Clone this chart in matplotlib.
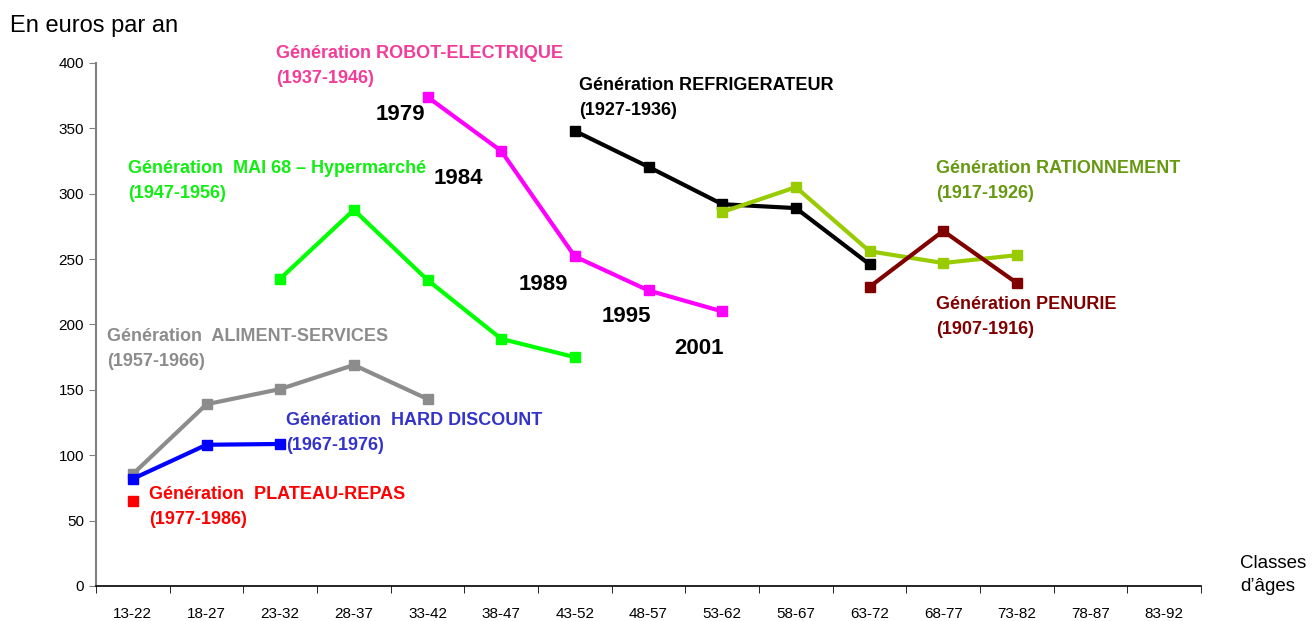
import matplotlib
matplotlib.use("Agg")
from matplotlib import pyplot as plt
from matplotlib import font_manager

# font: narrow Arial look if we have it
names = set(f.name for f in font_manager.fontManager.ttflist)
narrow = 'Liberation Sans Narrow' if 'Liberation Sans Narrow' in names else 'Liberation Sans'

classes = ['13-22', '18-27', '23-32', '28-37', '33-42', '38-47', '43-52', '48-57',
           '53-62', '58-67', '63-72', '68-77', '73-82', '78-87', '83-92']

# each generation: index of first age class, then values
plateau_start = 0
plateau_vals = [65]
hard_start = 0
hard_vals = [82, 108, 108.6]
aliment_start = 0
aliment_vals = [85.6, 139, 150.6, 169, 143]
mai68_start = 2
mai68_vals = [235, 287.6, 234, 189, 175]
robot_start = 4
robot_vals = [374, 332.7, 252, 226, 210]
refrig_start = 6
refrig_vals = [348, 320.5, 292, 289, 246]
ration_start = 8
ration_vals = [286, 305, 256, 247, 253]
penurie_start = 10
penurie_vals = [228.7, 271.5, 231.7]

years = ['1979', '1984', '1989', '1995', '2001']

fig = plt.figure(figsize=(13.12, 6.21), dpi=100)
ax = fig.add_axes([0.0732, 0.0564, 0.8422, 0.8422])

def draw(start, vals, col):
    xs = list(range(start, start + len(vals)))
    ax.plot(xs, vals, color=col, lw=3, marker='s', ms=7, solid_joinstyle='miter', clip_on=False)

draw(aliment_start, aliment_vals, '#8c8c8c')
draw(hard_start, hard_vals, '#0000ff')
draw(plateau_start, plateau_vals, '#ff0000')
draw(mai68_start, mai68_vals, '#00ff00')
draw(robot_start, robot_vals, '#ff00ff')
draw(refrig_start, refrig_vals, '#000000')
draw(ration_start, ration_vals, '#99cc00')
draw(penurie_start, penurie_vals, '#800000')

ax.set_xlim(-0.5, 14.5)
ax.set_ylim(0, 400)
ax.set_yticks(range(0, 401, 50))
ax.set_xticks(range(len(classes)))
ax.set_xticklabels(classes)
ax.set_xticks([i - 0.5 for i in range(len(classes) + 1)], minor=True)
ax.tick_params(axis='x', which='major', length=0, pad=15)
ax.tick_params(axis='x', which='minor', length=5, direction='out')
ax.tick_params(axis='y', length=5, direction='out', color='#808080')
for lab in ax.get_xticklabels() + ax.get_yticklabels():
    lab.set_family(narrow)
    lab.set_fontsize(11)
ax.spines['top'].set_visible(False)
ax.spines['right'].set_visible(False)
ax.spines['left'].set_color('#808080')
ax.spines['left'].set_linewidth(1.5)
ax.spines['bottom'].set_linewidth(1.2)

def px(x, y):
    # pixel position in the picture -> figure fraction
    return x / 1312, 1 - y / 621

def label(x, y, s, col):
    fig.text(*px(x, y), s, color=col, fontsize=13, fontweight='bold', family=narrow,
             ha='left', va='top', linespacing=1.6)

label(276, 45, 'Génération ROBOT-ELECTRIQUE\n(1937-1946)', '#f23c98')
label(579, 77, 'Génération REFRIGERATEUR\n(1927-1936)', '#000000')
label(128, 160, 'Génération  MAI 68 – Hypermarché\n(1947-1956)', '#11ee11')
label(936, 160, 'Génération RATIONNEMENT\n(1917-1926)', '#669911')
label(936, 296, 'Génération PENURIE\n(1907-1916)', '#800000')
label(107, 328, 'Génération  ALIMENT-SERVICES\n(1957-1966)', '#8c8c8c')
label(286, 412, 'Génération  HARD DISCOUNT\n(1967-1976)', '#3333cc')
label(149, 486, 'Génération  PLATEAU-REPAS\n(1977-1986)', '#ff0000')

year_pos = [(400, 114), (458, 179), (543, 284), (626, 316), (699, 348)]
for s, (x, y) in zip(years, year_pos):
    fig.text(*px(x, y), s, fontsize=16, fontweight='bold', family=narrow,
             ha='center', va='center')

fig.text(*px(10, 26), 'En euros par an', fontsize=17, family='Liberation Sans',
         ha='left', va='center')
fig.text(*px(1240, 575), 'Classes\nd\u2019âges', fontsize=13.5, family=narrow,
         ha='left', va='center', linespacing=1.45)

fig.savefig('out.png', dpi=100)
